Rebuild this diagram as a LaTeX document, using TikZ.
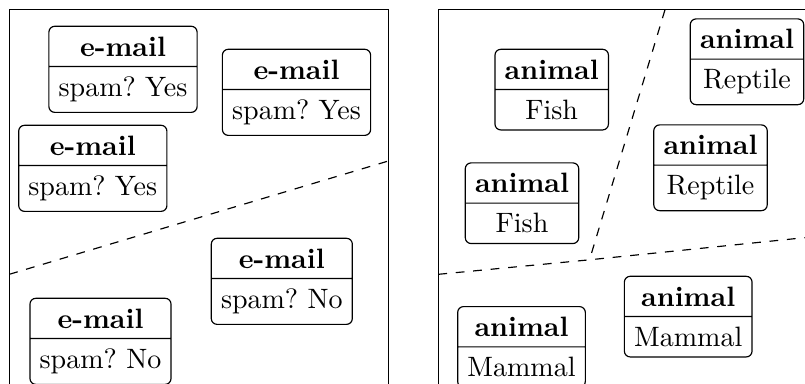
\documentclass[tikz,border=0pt]{standalone}
\usetikzlibrary{shapes.multipart}
\frenchspacing
\tikzset{
  record/.style={rectangle split, rectangle split parts=2, draw, rounded corners=2pt,
    align=center, anchor=north, line width=0.4pt,
    font=\fontsize{9.6}{11.5}\selectfont\frenchspacing},
  frame/.style={draw, line width=0.4pt},
  border/.style={draw, dashed, line width=0.4pt}
}
\begin{document}
\begin{tikzpicture}[x=0.3425pt, y=-0.3425pt]
  \useasboundingbox (0,0) rectangle (805,383);
  \clip (0,0) rectangle (805,383);
  % two panels
  \draw[frame] (9.3,9.7) rectangle (388.3,420);
  \draw[frame] (438.3,9.7) rectangle (840,420);

  % spam classification
  \coordinate (sl) at (9.3,274.3);
  \coordinate (sr) at (388.3,161);
  \draw[border] (sl) -- (sr);
  \node[record] (m1) at (123,25.7) {\textbf{e-mail}\nodepart{two}spam? Yes};
  \node[record] (m2) at (296.5,48.7) {\textbf{e-mail}\nodepart{two}spam? Yes};
  \node[record] (m3) at (92.8,124.7) {\textbf{e-mail}\nodepart{two}spam? Yes};
  \node[record] (m4) at (281.8,237.7) {\textbf{e-mail}\nodepart{two}spam? No};
  \node[record] (m5) at (100.5,297.7) {\textbf{e-mail}\nodepart{two}spam? No};

  % animal classes
  \coordinate (at) at (665,9.7);
  \coordinate (ac) at (589.5,259.8);
  \coordinate (al) at (438.3,274.3);
  \coordinate (ar) at (840,234);
  \draw[border] (at) -- (ac);
  \draw[border] (al) -- (ac) -- (ar);
  \node[record] (f1) at (551.7,48.7) {\textbf{animal}\nodepart{two}Fish};
  \node[record] (f2) at (522,162.3) {\textbf{animal}\nodepart{two}Fish};
  \node[record] (r1) at (747,18.3) {\textbf{animal}\nodepart{two}Reptile};
  \node[record] (r2) at (710.5,124.3) {\textbf{animal}\nodepart{two}Reptile};
  \node[record] (n1) at (688.2,275.7) {\textbf{animal}\nodepart{two}Mammal};
  \node[record] (n2) at (521.5,306) {\textbf{animal}\nodepart{two}Mammal};
\end{tikzpicture}
\end{document}
